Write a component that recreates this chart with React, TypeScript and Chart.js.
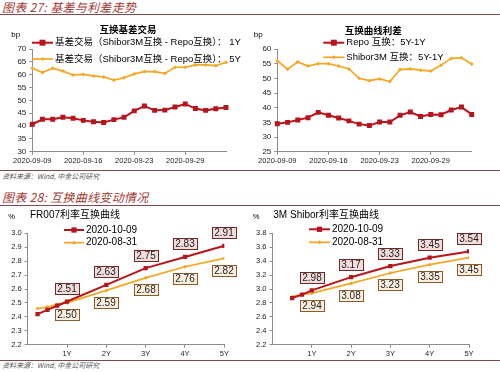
import React, { useEffect, useRef } from 'react';
import { Chart, registerables } from 'chart.js';

Chart.register(...registerables);

// ---------- data ----------
const dates = [
  '2020-09-09', '2020-09-10', '2020-09-11', '2020-09-14', '2020-09-15',
  '2020-09-16', '2020-09-17', '2020-09-18', '2020-09-21', '2020-09-22',
  '2020-09-23', '2020-09-24', '2020-09-25', '2020-09-27', '2020-09-28',
  '2020-09-29', '2020-09-30', '2020-10-09', '2020-10-10', '2020-10-12',
];
const basis1Y = [40.7, 42.6, 42.6, 43.4, 43.0, 42.2, 41.7, 41.4, 42.5, 43.4, 45.9, 47.8, 46.1, 46.2, 47.4, 48.6, 46.8, 46.1, 46.7, 47.2];
const basis5Y = [62.5, 60.8, 62.5, 61.4, 59.9, 60.1, 59.5, 59.1, 57.9, 58.8, 60.3, 61.2, 61.2, 60.5, 62.9, 62.9, 63.8, 63.8, 63.5, 64.8];
const repoSpread = [34.5, 35.0, 35.8, 36.6, 38.4, 37.4, 36.5, 35.5, 34.4, 33.9, 35.1, 35.1, 37.4, 38.5, 37.0, 37.7, 37.6, 39.2, 40.2, 37.7];
const shiborSpread = [56.0, 53.1, 55.6, 54.2, 55.0, 55.0, 54.2, 53.2, 50.0, 49.2, 49.8, 48.9, 53.0, 53.2, 52.8, 52.5, 54.5, 56.8, 57.0, 54.9];

const fr007Tenors = [0.25, 0.5, 0.75, 1, 2, 3, 4, 5];
const fr007Now = [2.42, 2.45, 2.48, 2.51, 2.63, 2.75, 2.83, 2.91];
const fr007Prev = [2.46, 2.47, 2.49, 2.50, 2.59, 2.68, 2.76, 2.82];
const shiborTenors = [0.5, 0.75, 1, 2, 3, 4, 5];
const shiborNow = [2.87, 2.92, 2.98, 3.17, 3.33, 3.45, 3.54];
const shiborPrev = [2.89, 2.92, 2.94, 3.08, 3.23, 3.35, 3.45];
const tenorLabels = ['1Y', '2Y', '3Y', '4Y', '5Y'];

const basisNames = ['基差交易（Shibor3M互换 - Repo互换）： 1Y', '基差交易（Shibor3M互换 - Repo互换）： 5Y'];
const spreadNames = ['Repo 互换：5Y-1Y', 'Shibor3M 互换：5Y-1Y'];
const curveNames = ['2020-10-09', '2020-08-31'];

// ---------- styles ----------
const FONT = '"Liberation Sans", "Noto Sans CJK SC", Arial, sans-serif';
const CJK = '"Noto Sans CJK SC", "Liberation Sans", sans-serif';
const RED = '#b8141c';
const ORANGE = '#f5a623';
const AXIS = '#8c8c8c';
const TEXT = '#222222';
const RULE = '#7d4b4b';
const HEAD = '#a33a33';

function makeDecor(cfg: any) {
  return {
    id: 'decor',
    afterDraw(chart: any) {
      const ctx = chart.ctx;
      ctx.save();
      (cfg.texts || []).forEach((t: any) => {
        ctx.font = t.font;
        ctx.fillStyle = t.color || '#000';
        ctx.textAlign = t.align || 'left';
        ctx.textBaseline = 'middle';
        ctx.fillText(t.text, t.x, t.y);
      });
      const lg = cfg.legend;
      if (lg) {
        chart.data.datasets.forEach((ds: any, i: number) => {
          const y = lg.y + i * lg.gap;
          const x0 = lg.x;
          const x1 = lg.x + lg.len;
          const xm = (x0 + x1) / 2;
          ctx.strokeStyle = ds.borderColor;
          ctx.lineWidth = ds.borderWidth;
          ctx.beginPath();
          ctx.moveTo(x0, y);
          ctx.lineTo(x1, y);
          ctx.stroke();
          ctx.fillStyle = ds.borderColor;
          const r = ds.pointRadius;
          if (ds.pointStyle === 'rect') {
            const s = r * Math.SQRT1_2 + 0.5;
            ctx.fillRect(xm - s, y - s, 2 * s, 2 * s);
          } else {
            ctx.beginPath();
            ctx.moveTo(xm, y - r);
            ctx.lineTo(xm + r, y);
            ctx.lineTo(xm, y + r);
            ctx.lineTo(xm - r, y);
            ctx.closePath();
            ctx.fill();
          }
          ctx.font = lg.font;
          ctx.fillStyle = '#000';
          ctx.textAlign = 'left';
          ctx.textBaseline = 'middle';
          ctx.fillText(ds.label, x1 + lg.textGap, y);
        });
      }
      ctx.restore();
    },
  };
}

function makeBoxLabels(styles: any[]) {
  return {
    id: 'boxLabels',
    afterDatasetsDraw(chart: any) {
      const ctx = chart.ctx;
      ctx.save();
      ctx.font = `10px ${FONT}`;
      ctx.textAlign = 'center';
      ctx.textBaseline = 'middle';
      chart.data.datasets.forEach((ds: any, di: number) => {
        const st = styles[di];
        const meta = chart.getDatasetMeta(di);
        meta.data.forEach((pt: any, i: number) => {
          const raw = ds.data[i];
          if (raw.x < 1) return;
          const text = raw.y.toFixed(2);
          const w = Math.round(ctx.measureText(text).width + 5);
          const h = 11;
          const cx = Math.round(pt.x);
          const cy = Math.round(pt.y + st.dy);
          const lx = cx - Math.round(w / 2) + 0.5;
          const ly = cy - Math.round(h / 2) + 0.5;
          ctx.fillStyle = st.fill;
          ctx.fillRect(lx, ly, w, h);
          ctx.strokeStyle = st.stroke;
          ctx.lineWidth = 1;
          ctx.strokeRect(lx, ly, w, h);
          ctx.fillStyle = TEXT;
          ctx.fillText(text, cx, cy + 0.5);
        });
      });
      ctx.restore();
    },
  };
}

function redSet(label: string, data: any[]) {
  return {
    label, data,
    borderColor: RED, backgroundColor: RED,
    pointBackgroundColor: RED, pointBorderColor: RED,
    borderWidth: 2, pointStyle: 'rect', pointRadius: 3.5, pointBorderWidth: 0,
    tension: 0,
  };
}
function orangeSet(label: string, data: any[]) {
  return {
    label, data,
    borderColor: ORANGE, backgroundColor: ORANGE,
    pointBackgroundColor: ORANGE, pointBorderColor: ORANGE,
    borderWidth: 1.7, pointStyle: 'rectRot', pointRadius: 2, pointBorderWidth: 0,
    tension: 0,
  };
}

function yScale(min: number, max: number, step: number, width: number, digits: number, size: number) {
  return {
    min, max,
    ticks: {
      stepSize: step, padding: 3, color: TEXT,
      font: { size, family: FONT },
      callback: (v: any) => Number(v).toFixed(digits),
    },
    grid: { display: true, drawOnChartArea: false, drawTicks: true, tickLength: 3, color: AXIS },
    border: { display: true, color: AXIS, width: 1 },
    afterFit: (s: any) => { s.width = width; },
  };
}

function timeConfig(o: any) {
  return {
    type: 'line',
    data: {
      labels: dates,
      datasets: [redSet(o.names[0], o.series[0]), orangeSet(o.names[1], o.series[1])],
    },
    options: {
      responsive: false, animation: false, devicePixelRatio: 1,
      layout: { padding: { left: 0, right: o.padRight, top: 34, bottom: 0 } },
      plugins: { legend: { display: false }, title: { display: false }, tooltip: { enabled: false } },
      scales: {
        x: {
          type: 'category',
          offset: false,
          ticks: {
            autoSkip: false, maxRotation: 0, minRotation: 0, padding: 2, color: TEXT,
            font: { size: 7.5, family: FONT },
            callback: function (this: any, v: any, i: number) { return i % 5 === 0 ? this.getLabelForValue(v) : ''; },
          },
          grid: {
            display: true, drawOnChartArea: false, drawTicks: true, tickLength: 3,
            color: (c: any) => (c.index % 5 === 0 ? AXIS : 'rgba(0,0,0,0)'),
          },
          border: { display: true, color: AXIS, width: 1 },
          afterFit: (s: any) => { s.height = 17.3; },
        },
        y: yScale(o.min, o.max, 5, o.yWidth, 0, 8),
      },
    },
    plugins: [makeDecor(o.decor)],
  };
}

function curveConfig(o: any) {
  const mk = (vals: number[]) => o.tenors.map((t: number, i: number) => ({ x: t, y: vals[i] }));
  return {
    type: 'line',
    data: {
      datasets: [
        { ...redSet(curveNames[0], mk(o.now)), pointRadius: 3 },
        orangeSet(curveNames[1], mk(o.prev)),
      ],
    },
    options: {
      responsive: false, animation: false, devicePixelRatio: 1,
      layout: { padding: { left: 0, right: o.padRight, top: 26.3, bottom: 0 } },
      plugins: { legend: { display: false }, title: { display: false }, tooltip: { enabled: false } },
      scales: {
        x: {
          type: 'linear', min: 0, max: 5,
          ticks: {
            stepSize: 1, padding: 2, color: TEXT, maxRotation: 0,
            font: { size: 7.5, family: FONT },
            callback: (v: any) => (v >= 1 ? tenorLabels[Math.round(v) - 1] : ''),
          },
          grid: {
            display: true, drawOnChartArea: false, drawTicks: true, tickLength: 3,
            color: (c: any) => (c.index === 0 ? 'rgba(0,0,0,0)' : AXIS),
          },
          border: { display: true, color: AXIS, width: 1 },
          afterFit: (s: any) => { s.height = 15.3; },
        },
        y: yScale(o.min, o.max, o.step, o.yWidth, 1, 7.5),
      },
    },
    plugins: [
      makeDecor(o.decor),
      makeBoxLabels([
        { dy: -12.5, fill: '#f2dcdc', stroke: '#6b2a2a' },
        { dy: 12.5, fill: '#fdefdf', stroke: '#8b5a2b' },
      ]),
    ],
  };
}

function ChartBox(props: { left: number; top: number; width: number; height: number; build: () => any }) {
  const ref = useRef<HTMLCanvasElement>(null);
  useEffect(() => {
    const chart = new Chart(ref.current as HTMLCanvasElement, props.build());
    return () => chart.destroy();
  }, []);
  return (
    <canvas
      ref={ref}
      width={props.width}
      height={props.height}
      style={{ position: 'absolute', left: props.left, top: props.top, width: props.width, height: props.height }}
    />
  );
}

const rule = (top: number) => (
  <div style={{ position: 'absolute', left: 0, top, width: 500, height: 1, background: RULE }} />
);
const heading = (top: number, text: string) => (
  <div style={{ position: 'absolute', left: 2, top, font: `italic 12px ${CJK}`, lineHeight: '14px', color: HEAD, whiteSpace: 'nowrap', letterSpacing: '0.3px' }}>{text}</div>
);
const source = (top: number) => (
  <div style={{ position: 'absolute', left: 2, top, font: `italic 7px ${CJK}`, lineHeight: '11px', color: '#555', whiteSpace: 'nowrap' }}>资料来源：Wind, 中金公司研究</div>
);

export default function App() {
  return (
    <div style={{ position: 'absolute', left: 0, top: 0, width: 500, height: 372, background: '#fff', overflow: 'hidden' }}>
      <ChartBox
        left={0} top={15} width={250} height={154}
        build={() => timeConfig({
          names: basisNames, series: [basis1Y, basis5Y], min: 30, max: 70, yWidth: 32.3, padRight: 24,
          decor: {
            texts: [
              { text: '互换基差交易', x: 128, y: 14.5, align: 'center', font: `bold 9.5px ${CJK}` },
              { text: 'bp', x: 15.8, y: 19.5, align: 'center', font: `8px ${FONT}` },
            ],
            legend: { x: 32, len: 21, y: 27.7, gap: 16.3, textGap: 2, font: `9.5px ${FONT}` },
          },
        })}
      />
      <ChartBox
        left={250} top={15} width={250} height={154}
        build={() => timeConfig({
          names: spreadNames, series: [repoSpread, shiborSpread], min: 25, max: 60, yWidth: 27.3, padRight: 28.3,
          decor: {
            texts: [
              { text: '互换曲线利差', x: 123.3, y: 15, align: 'center', font: `bold 9.5px ${CJK}` },
              { text: 'bp', x: 8.3, y: 19.5, align: 'center', font: `8px ${FONT}` },
            ],
            legend: { x: 73.3, len: 21, y: 27.7, gap: 14.6, textGap: 2, font: `9.5px ${FONT}` },
          },
        })}
      />
      <ChartBox
        left={0} top={207} width={250} height={153}
        build={() => curveConfig({
          tenors: fr007Tenors, now: fr007Now, prev: fr007Prev, min: 2.2, max: 3.0, step: 0.1, yWidth: 27.7, padRight: 25.7,
          decor: {
            texts: [
              { text: '%', x: 11.7, y: 9.7, align: 'center', font: `7.5px ${FONT}` },
              { text: 'FR007利率互换曲线', x: 30, y: 8, align: 'left', font: `10px ${FONT}` },
            ],
            legend: { x: 64, len: 20, y: 23, gap: 12.7, textGap: 2, font: `10px ${FONT}` },
          },
        })}
      />
      <ChartBox
        left={250} top={207} width={250} height={153}
        build={() => curveConfig({
          tenors: shiborTenors, now: shiborNow, prev: shiborPrev, min: 2.2, max: 3.8, step: 0.2, yWidth: 22.5, padRight: 31,
          decor: {
            texts: [
              { text: '%', x: 6, y: 10, align: 'center', font: `7.5px ${FONT}` },
              { text: '3M Shibor利率互换曲线', x: 23.3, y: 8, align: 'left', font: `10px ${FONT}` },
            ],
            legend: { x: 59, len: 21, y: 22.3, gap: 13, textGap: 2, font: `10px ${FONT}` },
          },
        })}
      />
      {heading(0, '图表 27: 基差与利差走势')}
      {rule(14)}
      {rule(170)}
      {source(171)}
      {heading(189.5, '图表 28: 互换曲线变动情况')}
      {rule(205)}
      {rule(360)}
      {source(360)}
    </div>
  );
}
